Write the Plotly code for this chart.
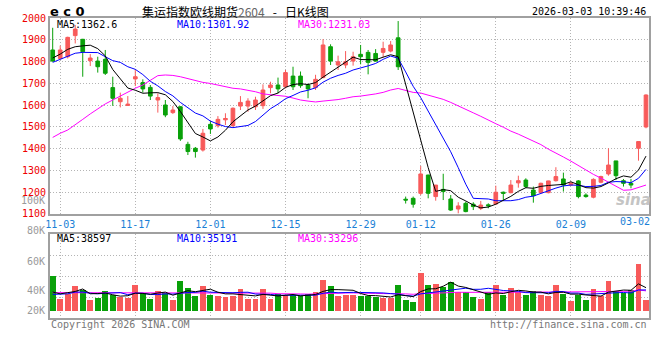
import plotly.graph_objects as go

# ---------------- data ----------------
dates = ["10-31",
         "11-03", "11-04", "11-05", "11-06", "11-07", "11-10", "11-11", "11-12", "11-13", "11-14",
         "11-17", "11-18", "11-19", "11-20", "11-21", "11-24", "11-25", "11-26", "11-27", "11-28",
         "12-01", "12-02", "12-03", "12-04", "12-05", "12-08", "12-09", "12-10", "12-11", "12-12",
         "12-15", "12-16", "12-17", "12-18", "12-19", "12-22", "12-23", "12-24", "12-25", "12-26",
         "12-29", "12-30", "12-31",
         "01-05", "01-06", "01-07", "01-08", "01-09",
         "01-12", "01-13", "01-14", "01-15", "01-16", "01-19", "01-20", "01-21", "01-22", "01-23",
         "01-26", "01-27", "01-28", "01-29", "01-30", "02-02", "02-03", "02-04", "02-05", "02-06",
         "02-09", "02-10", "02-11", "02-12", "02-13", "02-24", "02-25", "02-26", "02-27",
         "03-02", "03-03"]

open_ = [1854, 1815, 1823, 1920, 1903, 1805, 1803, 1811, 1681, 1616,
         1599, 1721, 1704, 1682, 1624, 1601, 1566, 1593, 1420, 1402,
         1394, 1512, 1506, 1533, 1506, 1596, 1596, 1593, 1598, 1681,
         1693, 1685, 1734, 1734, 1693, 1681, 1727, 1869, 1785, 1785,
         1803, 1834, 1843, 1838, 1843, 1849, 1910, 1168, 1172, 1195,
         1279, 1180, 1213, 1169, 1123, 1149, 1145, 1126, 1142, 1146,
         1200, 1198, 1243, 1256, 1210, 1198, 1198, 1253, 1261, 1233,
         1252, 1187, 1177, 1246, 1284, 1344, 1253, 1241, 1402, 1500]
high = [1956, 1874, 1915, 1969, 1905, 1835, 1823, 1854, 1731, 1658,
        1642, 1765, 1719, 1693, 1655, 1624, 1596, 1596, 1432, 1408,
        1491, 1527, 1550, 1563, 1590, 1642, 1632, 1639, 1696, 1708,
        1727, 1762, 1777, 1755, 1700, 1740, 1904, 1880, 1828, 1849,
        1846, 1877, 1854, 1858, 1892, 1895, 1987, 1180, 1180, 1321,
        1280, 1233, 1285, 1187, 1154, 1157, 1154, 1160, 1149, 1230,
        1203, 1256, 1276, 1264, 1226, 1244, 1253, 1315, 1290, 1249,
        1256, 1195, 1264, 1276, 1402, 1344, 1261, 1261, 1433, 1650]
low = [1800, 1811, 1815, 1884, 1731, 1780, 1750, 1739, 1597, 1590,
       1599, 1688, 1658, 1624, 1566, 1545, 1560, 1436, 1371, 1359,
       1387, 1468, 1497, 1509, 1501, 1578, 1570, 1578, 1583, 1655,
       1655, 1677, 1670, 1680, 1632, 1670, 1724, 1785, 1762, 1770,
       1782, 1788, 1742, 1800, 1819, 1843, 1762, 1148, 1129, 1187,
       1172, 1161, 1164, 1114, 1103, 1108, 1118, 1118, 1126, 1141,
       1161, 1195, 1221, 1218, 1152, 1195, 1195, 1249, 1203, 1229,
       1172, 1175, 1172, 1241, 1276, 1256, 1226, 1218, 1345, 1494]
close = [1803, 1854, 1912, 1950, 1846, 1817, 1777, 1747, 1632, 1632,
         1605, 1731, 1675, 1642, 1635, 1555, 1578, 1445, 1387, 1387,
         1471, 1491, 1535, 1539, 1586, 1613, 1619, 1624, 1670, 1693,
         1675, 1750, 1685, 1690, 1675, 1719, 1877, 1803, 1800, 1800,
         1823, 1823, 1797, 1803, 1861, 1877, 1777, 1164, 1145, 1284,
         1195, 1233, 1203, 1118, 1137, 1111, 1134, 1141, 1138, 1200,
         1195, 1233, 1253, 1226, 1184, 1241, 1252, 1272, 1233, 1241,
         1180, 1180, 1259, 1272, 1325, 1276, 1241, 1233, 1433, 1647]

ma5 = [1817, 1835, 1857, 1869, 1873, 1876, 1860, 1827, 1764, 1721,
       1679, 1669, 1655, 1657, 1658, 1648, 1617, 1571, 1520, 1470,
       1454, 1436, 1454, 1485, 1524, 1553, 1578, 1596, 1622, 1644,
       1656, 1682, 1695, 1699, 1695, 1704, 1729, 1753, 1775, 1800,
       1821, 1810, 1809, 1809, 1821, 1832, 1823, 1696, 1565, 1449,
       1313, 1204, 1212, 1207, 1177, 1160, 1141, 1128, 1132, 1145,
       1162, 1181, 1204, 1221, 1218, 1227, 1231, 1235, 1236, 1248,
       1236, 1221, 1219, 1226, 1243, 1262, 1275, 1269, 1302, 1366]
ma10 = [1797, 1811, 1826, 1839, 1843, 1843, 1842, 1823, 1805, 1797,
        1777, 1765, 1741, 1710, 1689, 1663, 1643, 1613, 1589, 1564,
        1551, 1527, 1513, 1502, 1497, 1503, 1507, 1525, 1554, 1584,
        1605, 1630, 1645, 1661, 1669, 1680, 1706, 1724, 1737, 1747,
        1762, 1770, 1781, 1792, 1811, 1826, 1816, 1753, 1687, 1635,
        1573, 1514, 1454, 1386, 1313, 1237, 1172, 1170, 1169, 1161,
        1161, 1161, 1166, 1177, 1182, 1195, 1206, 1219, 1229, 1233,
        1232, 1226, 1227, 1231, 1246, 1249, 1248, 1244, 1264, 1305]
ma30 = [1452, 1471, 1486, 1509, 1535, 1560, 1584, 1606, 1624, 1642,
        1662, 1678, 1693, 1716, 1736, 1739, 1737, 1731, 1722, 1713,
        1705, 1700, 1693, 1685, 1678, 1675, 1670, 1662, 1652, 1648,
        1644, 1641, 1633, 1624, 1619, 1615, 1619, 1621, 1626, 1632,
        1639, 1642, 1646, 1652, 1659, 1670, 1677, 1667, 1659, 1656,
        1646, 1638, 1627, 1613, 1598, 1581, 1565, 1549, 1531, 1515,
        1499, 1481, 1467, 1452, 1435, 1419, 1398, 1381, 1362, 1343,
        1322, 1300, 1282, 1265, 1247, 1227, 1209, 1211, 1221, 1233]

# volume in thousands of lots (K)
volume = [59.1, 20.3, 29.3, 42.2, 35.2, 18.6, 22.3, 33.8, 27.3, 23.3,
          22.5, 44.5, 30.4, 20.6, 34.0, 29.8, 18.6, 50.7, 38.6, 25.3,
          42.2, 27.0, 25.6, 24.2, 25.6, 36.9, 20.5, 20.5, 37.2, 20.5,
          28.4, 26.5, 27.0, 25.3, 28.4, 32.4, 52.4, 42.2, 25.3, 27.5,
          27.5, 25.3, 25.3, 24.2, 22.5, 21.4, 43.9, 18.6, 15.2, 64.8,
          43.9, 45.6, 40.0, 49.0, 32.1, 32.1, 24.2, 20.3, 32.1, 43.9,
          27.0, 39.4, 32.1, 27.0, 33.8, 27.0, 25.3, 43.9, 28.7, 17.5,
          27.0, 18.6, 37.2, 25.3, 50.7, 33.8, 29.8, 35.5, 79.4, 18.6]
vma5 = [32.0, 29.0, 31.0, 33.0, 37.2, 29.1, 29.5, 30.4, 27.4, 25.1,
        25.8, 30.3, 29.6, 28.3, 30.4, 31.9, 26.7, 30.7, 34.3, 32.6,
        35.1, 36.8, 31.7, 28.9, 28.9, 27.9, 26.6, 25.5, 28.1, 27.1,
        25.4, 26.6, 27.9, 25.5, 27.1, 27.9, 33.1, 36.1, 36.1, 36.0,
        35.0, 29.6, 26.2, 26.0, 25.0, 23.7, 27.5, 26.1, 24.3, 32.8,
        37.3, 37.6, 41.9, 48.7, 42.1, 39.8, 35.5, 31.5, 28.2, 30.5,
        29.5, 32.5, 34.9, 33.9, 31.9, 31.9, 29.0, 31.4, 31.7, 28.5,
        28.5, 27.1, 25.8, 25.1, 31.8, 33.1, 35.4, 35.0, 45.8, 39.4]
vma10 = [28.0, 28.0, 29.0, 32.0, 32.0, 30.0, 29.0, 30.0, 30.0, 31.1,
         27.5, 29.9, 30.0, 27.9, 27.7, 28.9, 28.5, 30.2, 31.3, 31.5,
         33.5, 31.7, 31.2, 31.6, 30.8, 31.5, 31.7, 28.6, 28.5, 28.0,
         26.6, 26.6, 26.7, 26.8, 27.1, 26.7, 29.9, 32.0, 30.8, 31.5,
         31.5, 31.3, 31.2, 31.1, 30.5, 29.4, 28.5, 26.2, 25.1, 28.9,
         30.5, 32.5, 34.0, 36.5, 37.5, 38.5, 36.6, 36.7, 38.4, 36.3,
         34.6, 34.0, 33.2, 31.0, 31.2, 30.7, 30.8, 33.2, 32.8, 30.2,
         30.2, 28.1, 28.6, 28.4, 30.1, 30.8, 31.3, 30.4, 35.5, 35.6]
vma30 = [31.0, 31.0, 31.0, 31.0, 31.0, 31.0, 30.8, 30.6, 30.4, 30.2,
         30.0, 30.0, 30.0, 30.0, 30.0, 30.0, 30.0, 30.0, 30.0, 30.0,
         30.2, 30.2, 30.2, 30.2, 30.2, 30.2, 30.2, 30.2, 30.2, 30.2,
         29.2, 29.4, 29.3, 28.8, 28.5, 29.0, 30.0, 30.3, 30.2, 30.4,
         30.5, 29.9, 29.7, 29.8, 29.4, 29.2, 30.0, 28.9, 28.2, 29.5,
         29.5, 30.2, 30.6, 31.5, 31.7, 31.5, 31.6, 31.6, 31.5, 32.2,
         32.2, 32.6, 32.8, 32.9, 33.0, 32.9, 32.0, 32.0, 32.1, 31.8,
         31.8, 31.5, 31.9, 32.0, 32.9, 33.3, 32.9, 33.4, 35.6, 34.0]

tick_labels = ["11-03", "11-17", "12-01", "12-15", "12-29", "01-12", "01-26", "02-09", "03-02"]
price_ticks = [1100, 1200, 1300, 1400, 1500, 1600, 1700, 1800, 1900, 2000]
vol_labels = ["100K", "80K", "60K", "40K", "20K"]

title_main = "集运指数欧线期货"
title_code = "2604"
title_tail = "\u00a0\u00a0\u00a0-\u00a0\u00a0\u00a0日K线图"
timestamp = "2026-03-03 10:39:46"
price_ma_text = ["MA5:1362.6", "MA10:1301.92", "MA30:1231.03"]
vol_ma_text = ["MA5:38597", "MA10:35191", "MA30:33296"]

# ---------------- styling ----------------
W, H = 660, 360
RED = "#f85a5a"
GREEN = "#09a109"
MA_COLORS = ["#000000", "#0000ff", "#ff00ff"]
MONO = "DejaVu Sans Mono"
GRID = "#b4b4b4"
FRAME = "#a0a0a0"
BLUE_TXT = "#1a7fd6"


def px(x):
    return x / W


def py(y):
    return 1 - y / H


x = list(range(len(dates)))
bar_colors = [RED if c >= o else GREEN for o, c in zip(open_, close)]
tick_pos = [dates.index(t) for t in tick_labels]

fig = go.Figure()
fig.add_trace(go.Candlestick(
    x=x, open=open_, high=high, low=low, close=close,
    increasing=dict(line=dict(color=RED, width=1), fillcolor=RED),
    decreasing=dict(line=dict(color=GREEN, width=1), fillcolor=GREEN),
    whiskerwidth=0, hoverinfo="skip", showlegend=False, xaxis="x", yaxis="y"))
for series, col in zip([ma30, ma10, ma5], MA_COLORS[::-1]):
    fig.add_trace(go.Scatter(x=x, y=series, mode="lines", line=dict(color=col, width=1),
                             hoverinfo="skip", showlegend=False, xaxis="x", yaxis="y"))

fig.add_trace(go.Bar(x=x, y=volume, marker=dict(color=bar_colors, line=dict(width=0)),
                     width=0.78, hoverinfo="skip", showlegend=False, xaxis="x2", yaxis="y2"))
for series, col in zip([vma30, vma10, vma5], MA_COLORS[::-1]):
    fig.add_trace(go.Scatter(x=x, y=series, mode="lines", line=dict(color=col, width=1),
                             hoverinfo="skip", showlegend=False, xaxis="x2", yaxis="y2"))

xrange = [-0.36, 79.44]
vrange = [-12.33, 129.56]
vgrid = [vrange[0] + f * (vrange[1] - vrange[0]) for f in (0.25, 0.5, 0.75)]

common_axis = dict(showgrid=True, gridcolor=GRID, griddash="1px,2px", gridwidth=1,
                   showline=True, linecolor=FRAME, linewidth=2, mirror=True,
                   zeroline=False, ticks="", fixedrange=True, automargin=False)

fig.update_layout(
    template="none",
    width=W, height=H, margin=dict(l=0, r=0, t=0, b=0, pad=0, autoexpand=False),
    paper_bgcolor="white", plot_bgcolor="white", showlegend=False,
    bargap=0,
    xaxis=dict(domain=[px(50), px(649.3)], range=xrange, anchor="y",
               tickmode="array", tickvals=tick_pos[:-1], ticktext=tick_labels[:-1],
               tickfont=dict(family=MONO, size=10, color=BLUE_TXT),
               rangeslider=dict(visible=False), **common_axis),
    yaxis=dict(domain=[py(214.0), py(18.2)], range=[1099.9, 2000.1], anchor="x",
               tickmode="array", tickvals=price_ticks,
               tickfont=dict(family=MONO, size=10, color="#ee0000"), **common_axis),
    xaxis2=dict(domain=[px(50), px(649.3)], range=xrange, anchor="y2",
                tickmode="array", tickvals=tick_pos[:-1], showticklabels=False, **common_axis),
    yaxis2=dict(domain=[py(318.3), py(234.3)], range=vrange, anchor="x2",
                tickmode="array", tickvals=vgrid, showticklabels=False, **common_axis),
)

ann = []


def add_text(text, xp, yp, anchor="left", color="#000", size=10, family=MONO, **kw):
    ann.append(dict(text=text, x=px(xp), y=py(yp), xref="paper", yref="paper",
                    xanchor=anchor, yanchor="middle", showarrow=False,
                    font=dict(family=family, size=size, color=color), **kw))


add_text("<b>e c 0</b>", 48, 12, size=13, family="DejaVu Sans")
add_text(title_main + "<span style='color:#666'>" + title_code + "</span>" + title_tail,
         140, 11, size=12, family="Noto Sans CJK SC")
add_text(timestamp, 648, 12, anchor="right")
for t, xp, col in zip(price_ma_text, [55, 175, 296], MA_COLORS):
    add_text(t, xp, 24.5, color=col)
for t, xp, col in zip(vol_ma_text, [55, 175, 296], MA_COLORS):
    add_text(t, xp, 238.5, color=col)
for t, yp in zip(vol_labels, [200, 230.7, 261, 290, 310.7]):
    add_text(t, 47, yp, anchor="right", color="#9a9a9a")
add_text("Copyright 2026 SINA.COM", 49, 324, color="#777")
add_text("http://finance.sina.com.cn", 649, 324, anchor="right", color="#777")
add_text("<b><i>sina</i></b>", 633, 200, anchor="center", color="#c4c4c4",
         size=15, family="DejaVu Sans")
# last date label (drawn without a grid line in the reference)
ann.append(dict(text=tick_labels[-1], x=tick_pos[-1], y=py(221), xref="x", yref="paper",
                xanchor="center", yanchor="middle", showarrow=False, xshift=-3,
                font=dict(family=MONO, size=10, color=BLUE_TXT)))

fig.update_layout(annotations=ann)
fig.write_html("out.html",
               config={"displayModeBar": False, "staticPlot": True},
               post_script="document.body.style.margin='0';document.body.style.padding='0';"
                           "document.body.style.overflow='hidden';")
